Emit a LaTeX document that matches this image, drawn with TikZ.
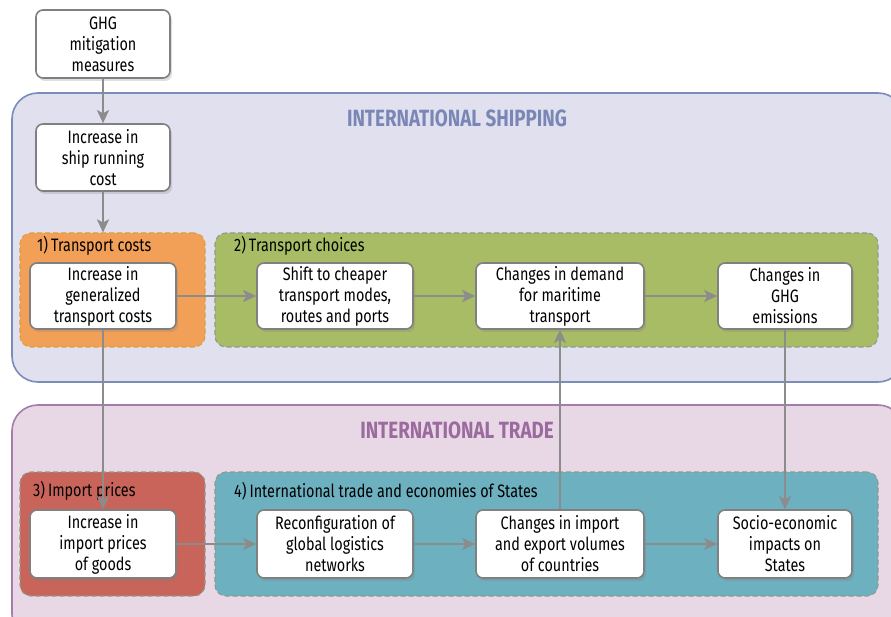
\documentclass[tikz,border=0pt]{standalone}
\usepackage{fontspec}
\setmainfont{Fira Sans}[FakeStretch=0.8, BoldFeatures={FakeStretch=0.8}]
\usetikzlibrary{arrows.meta,shadows}
\definecolor{shipfill}{HTML}{E1E0EE}
\definecolor{shipline}{HTML}{7B8BBA}
\definecolor{shiptitle}{HTML}{7A87B6}
\definecolor{tradefill}{HTML}{E8D8E6}
\definecolor{tradeline}{HTML}{A47DAA}
\definecolor{tradetitle}{HTML}{9B6A9F}
\definecolor{costfill}{HTML}{F2A058}
\definecolor{costline}{HTML}{D9A040}
\definecolor{choicefill}{HTML}{A8BC66}
\definecolor{pricefill}{HTML}{C8645A}
\definecolor{econfill}{HTML}{6DB0C0}
\definecolor{groupline}{HTML}{8E9A8C}
\definecolor{boxline}{HTML}{808080}
\definecolor{arrowgray}{HTML}{8C8C8C}
\tikzset{
  x=1pt, y=-1pt,
  sector/.style={rounded corners=26pt, line width=1.6pt},
  group/.style={rounded corners=11pt, dashed, dash pattern=on 5pt off 3pt, line width=1.1pt, draw=groupline},
  grouplabel/.style={anchor=west, font=\fontsize{18}{20}\selectfont, inner sep=0pt},
  sectortitle/.style={font=\fontsize{23.5}{26}\selectfont\bfseries, inner sep=0pt},
  stepbox/.style={draw=boxline, fill=white, line width=1.6pt, rounded corners=7pt,
    align=center, inner sep=0pt, font=\fontsize{18}{21}\selectfont,
    drop shadow={opacity=0.25, shadow xshift=2pt, shadow yshift=-3pt}},
  flow/.style={draw=arrowgray, line width=2.4pt, -{Stealth[length=13pt, width=12pt, inset=3pt]}},
}
\newcommand{\stepnode}[5]{%
  \node[stepbox, minimum width=#3-#2, minimum height=#5-#4] (#1) at ({(#2+#3)/2},{(#4+#5)/2})}
\begin{document}
\begin{tikzpicture}
\useasboundingbox (0,0) rectangle (891,617);

% sectors
\path[sector, fill=shipfill, draw=shipline] (12,93) rectangle (904,382);
\node[sectortitle, text=shiptitle] (shiptitle) at (457,118) {INTERNATIONAL SHIPPING};
\path[sector, fill=tradefill, draw=tradeline] (12,405) rectangle (904,640);
\node[sectortitle, text=tradetitle] (tradetitle) at (457,430) {INTERNATIONAL TRADE};

% groups
\node[group, fill=costfill, draw=costline, minimum width=185pt, minimum height=114pt, inner sep=0pt] (g1) at (112.5,290) {};
\node[group, fill=choicefill, minimum width=663pt, minimum height=114pt, inner sep=0pt] (g2) at (546.5,290) {};
\node[group, fill=pricefill, minimum width=185pt, minimum height=124pt, inner sep=0pt] (g3) at (112.5,534) {};
\node[group, fill=econfill, minimum width=663pt, minimum height=124pt, inner sep=0pt] (g4) at (546.5,534) {};
\node[grouplabel] (l1) at (37,246) {1)\,Transport costs};
\node[grouplabel] (l2) at (234,246) {2)\,Transport choices};
\node[grouplabel] (l3) at (33,491) {3)\,Import prices};
\node[grouplabel] (l4) at (234,491) {4)\,International trade and economies of States};

% steps
\stepnode{ghg}{36}{170}{10}{78} {GHG\\mitigation\\measures};
\stepnode{run}{36}{170}{124}{191} {Increase in\\ship running\\cost};
\stepnode{gen}{30}{176}{263}{329} {Increase in\\generalized\\transport costs};
\stepnode{shift}{257}{413}{263}{329} {Shift to cheaper\\transport modes,\\routes and ports};
\stepnode{demand}{476}{644}{263}{329} {Changes in demand\\for maritime\\transport};
\stepnode{emis}{718}{852}{263}{329} {Changes in\\GHG\\emissions};
\stepnode{imp}{30}{176}{510}{578} {Increase in\\import prices\\of goods};
\stepnode{reconf}{257}{413}{510}{578} {Reconfiguration of\\global logistics\\networks};
\stepnode{vol}{476}{644}{510}{578} {Changes in import\\and export volumes\\of countries};
\stepnode{socio}{718}{852}{510}{578} {Socio-economic\\impacts on\\States};

% flows
\draw[flow] (ghg) -- (run);
\draw[flow] (run) -- (run |- g1.north);
\draw[flow] (gen) -- (shift);
\draw[flow] (shift) -- (demand);
\draw[flow] (demand) -- (emis);
\draw[flow] (gen) -- (imp);
\draw[flow] (vol) -- (demand);
\draw[flow] (emis) -- (socio);
\draw[flow] (imp) -- (reconf);
\draw[flow] (reconf) -- (vol);
\draw[flow] (vol) -- (socio);
\end{tikzpicture}
\end{document}
